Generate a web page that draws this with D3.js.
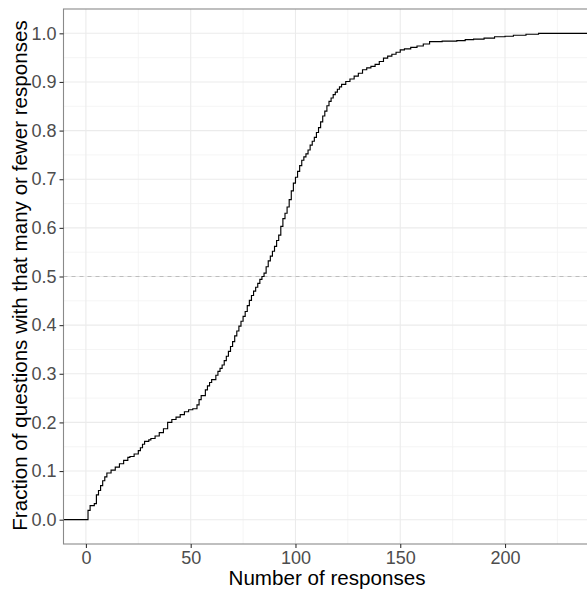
<!DOCTYPE html>
<html><head><meta charset="utf-8">
<script src="https://cdn.jsdelivr.net/npm/d3@7"></script>
<style>html,body{margin:0;padding:0;background:#fff;}svg{display:block;}</style>
</head><body>
<svg id="chart" width="587" height="589"></svg>
<script>
const responses = [1,2,4,5,6,7,8,9,10,12,14,16,18,20,21,23,25,26,27,28,30,31,33,35,37,39,41,43,45,47,49,51,53,54,55,57,58,59,60,62,63,64,65,66,67,68,69,70,71,72,73,74,75,76,77,78,79,80,81,82,83,84,85,86,87,88,89,90,91,92,93,94,95,96,97,98,99,100,101,102,103,104,105,106,107,108,109,110,111,112,113,114,115,116,117,118,119,120,121,122,124,126,128,130,132,134,136,138,140,142,144,146,148,150,152,155,158,161,164,170,177,181,185,190,195,200,204,210,216];
const fraction = [0.019,0.029,0.033,0.051,0.060,0.070,0.080,0.088,0.096,0.102,0.108,0.115,0.122,0.128,0.130,0.135,0.142,0.148,0.155,0.161,0.164,0.167,0.172,0.179,0.187,0.200,0.206,0.211,0.216,0.222,0.226,0.228,0.236,0.247,0.255,0.267,0.275,0.282,0.288,0.297,0.305,0.311,0.318,0.327,0.336,0.346,0.356,0.366,0.378,0.388,0.398,0.408,0.418,0.428,0.440,0.451,0.461,0.470,0.478,0.486,0.494,0.500,0.507,0.520,0.532,0.542,0.552,0.562,0.574,0.585,0.603,0.619,0.630,0.643,0.658,0.676,0.692,0.704,0.716,0.728,0.739,0.746,0.752,0.760,0.770,0.778,0.786,0.796,0.806,0.818,0.830,0.840,0.851,0.860,0.867,0.874,0.879,0.885,0.890,0.895,0.901,0.906,0.912,0.918,0.925,0.929,0.932,0.936,0.942,0.949,0.953,0.957,0.961,0.966,0.968,0.971,0.974,0.978,0.983,0.984,0.985,0.987,0.988,0.990,0.993,0.994,0.996,0.998,1.0];
const xTicks = [0,50,100,150,200];
const xMinor = [25,75,125,175,225];
const yTicks = [0.0,0.1,0.2,0.3,0.4,0.5,0.6,0.7,0.8,0.9,1.0];
const yMinor = [0.05,0.15,0.25,0.35,0.45,0.55,0.65,0.75,0.85,0.95];
const refLine = 0.5;
const xTitle = "Number of responses";
const yTitle = "Fraction of questions with that many or fewer responses";

const svg = d3.select("#chart");
const L = 63.5, R = 588, T = 9, B = 544;
const x = d3.scaleLinear().domain([-10.7, 239.6]).range([L, R]);
const y = d3.scaleLinear().domain([-0.05, 1.05]).range([B, T]);
const font = "'Liberation Sans', Arial, sans-serif";

const g = svg.append("g");
// minor grid
g.selectAll(".xm").data(xMinor).join("line")
  .attr("x1", d => x(d)).attr("x2", d => x(d)).attr("y1", T).attr("y2", B)
  .attr("stroke", "#f2f2f2").attr("stroke-width", 0.8);
g.selectAll(".ym").data(yMinor).join("line")
  .attr("y1", d => y(d)).attr("y2", d => y(d)).attr("x1", L).attr("x2", R)
  .attr("stroke", "#f2f2f2").attr("stroke-width", 0.8);
// major grid
g.selectAll(".xg").data(xTicks).join("line")
  .attr("x1", d => x(d)).attr("x2", d => x(d)).attr("y1", T).attr("y2", B)
  .attr("stroke", "#ebebeb").attr("stroke-width", 1.1);
g.selectAll(".yg").data(yTicks).join("line")
  .attr("y1", d => y(d)).attr("y2", d => y(d)).attr("x1", L).attr("x2", R)
  .attr("stroke", "#ebebeb").attr("stroke-width", 1.1);

// reference line
g.append("line").attr("x1", L).attr("x2", R).attr("y1", y(refLine)).attr("y2", y(refLine))
  .attr("stroke", "#bdbdbd").attr("stroke-width", 1.1).attr("stroke-dasharray", "4,4");

// ECDF step line
const pts = [[x.domain()[0], 0], [responses[0], 0]].concat(responses.map((r, i) => [r, fraction[i]]));
pts.push([x.domain()[1] + 20, fraction[fraction.length - 1]]);
const line = d3.line().x(d => x(d[0])).y(d => y(d[1])).curve(d3.curveStepAfter);
svg.append("clipPath").attr("id", "clip").append("rect").attr("x", L).attr("y", T).attr("width", R - L).attr("height", B - T);
g.append("path").datum(pts).attr("d", line).attr("fill", "none")
  .attr("stroke", "#000").attr("stroke-width", 1.15).attr("clip-path", "url(#clip)");

// border
g.append("rect").attr("x", L).attr("y", T).attr("width", R - L + 2).attr("height", B - T)
  .attr("fill", "none").attr("stroke", "#8a8a8a").attr("stroke-width", 1.1);

// axes
const xAxis = d3.axisBottom(x).tickValues(xTicks).tickFormat(d3.format("d")).tickSize(4).tickPadding(3);
const yAxis = d3.axisLeft(y).tickValues(yTicks).tickFormat(d3.format(".1f")).tickSize(4).tickPadding(3);
const gx = svg.append("g").attr("transform", `translate(0,${B})`).call(xAxis);
const gy = svg.append("g").attr("transform", `translate(${L},0)`).call(yAxis);
[gx, gy].forEach(a => {
  a.select(".domain").remove();
  a.selectAll(".tick line").attr("stroke", "#333").attr("stroke-width", 1.1);
  a.selectAll(".tick text").attr("fill", "#4d4d4d")
    .style("font-family", font).style("font-size", "18px");
});

svg.append("text").attr("x", 327).attr("y", 585).attr("text-anchor", "middle")
  .style("font-family", font).style("font-size", "20.6px").attr("fill", "#000")
  .text(xTitle);
svg.append("text").attr("transform", `translate(27,${(T + B) / 2 - 1}) rotate(-90)`).attr("text-anchor", "middle")
  .style("font-family", font).style("font-size", "20.6px").attr("fill", "#000")
  .text(yTitle);
</script>
</body></html>
